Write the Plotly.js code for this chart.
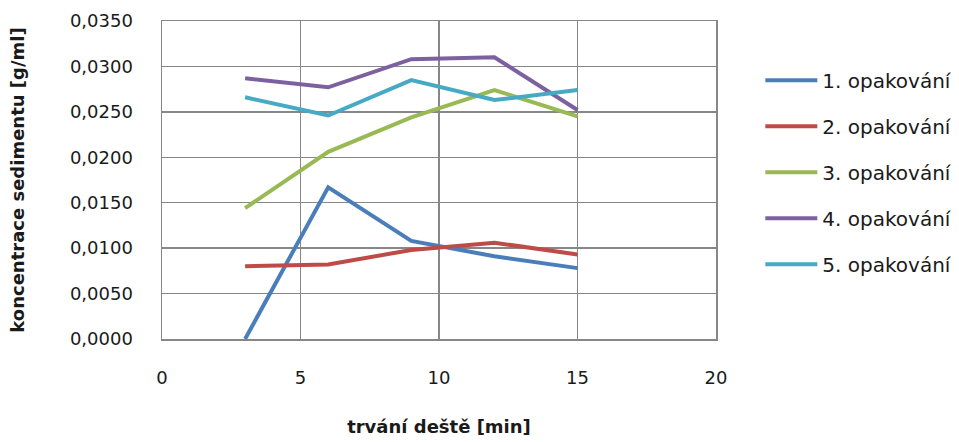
<!DOCTYPE html>
<html><head><meta charset="utf-8">
<script src="https://cdn.plot.ly/plotly-3.0.1.min.js"></script>
<style>html,body{margin:0;padding:0;background:#fff}</style>
</head><body>
<div id="chart" style="width:959px;height:442px"></div>
<script>
const xMinutes = [3, 6, 9, 12, 15];
const seriesNames = ["1. opakování", "2. opakování", "3. opakování", "4. opakování", "5. opakování"];
const rep1 = [0.0000, 0.0167, 0.0108, 0.0091, 0.0078];
const rep2 = [0.0080, 0.0082, 0.0098, 0.0106, 0.0093];
const rep3 = [0.0144, 0.0206, 0.0244, 0.0274, 0.0245];
const rep4 = [0.0287, 0.0277, 0.0308, 0.0310, 0.0252];
const rep5 = [0.0266, 0.0246, 0.0285, 0.0263, 0.0274];
const colors = ["#4A7EBB", "#BE4B48", "#98B954", "#7D60A0", "#46AAC5"];
const allSeries = [rep1, rep2, rep3, rep4, rep5];

const traces = allSeries.map((ys, i) => ({
  x: xMinutes, y: ys, type: "scatter", mode: "lines",
  name: seriesNames[i], legendgroup: "g" + i,
  line: {color: colors[i], width: 4}
}));

const font = "DejaVu Sans, sans-serif";
const txt = "#1a1a1a";
const layout = {
  width: 959, height: 442,
  margin: {l: 162, r: 243, t: 21, b: 103, autoexpand: false},
  separators: ", ",
  paper_bgcolor: "#fff", plot_bgcolor: "#fff",
  font: {family: font, color: txt, size: 18},
  xaxis: {
    range: [0, 20], dtick: 5, tick0: 0,
    showgrid: true, gridcolor: "#878787", gridwidth: 1.5,
    showline: true, mirror: true, linecolor: "#878787", linewidth: 1.5,
    zeroline: false, ticks: "", ticklabelstandoff: 22,
    tickfont: {family: font, size: 18, color: txt},
    title: {text: "trvání deště [min]", font: {family: font, size: 18, color: txt, weight: "bold"}, standoff: 33}
  },
  yaxis: {
    range: [0, 0.035], dtick: 0.005, tick0: 0, tickformat: ".4f",
    showgrid: true, gridcolor: "#878787", gridwidth: 1.5,
    showline: true, mirror: true, linecolor: "#878787", linewidth: 1.5,
    zeroline: false, ticks: "", ticklabelstandoff: 24,
    tickfont: {family: font, size: 18, color: txt},
    title: {text: "koncentrace sedimentu [g/ml]", font: {family: font, size: 18, color: txt, weight: "bold"}, standoff: 40}
  },
  showlegend: true,
  legend: {
    x: 1.08, xanchor: "left", y: 0.875, yanchor: "top",
    traceorder: "grouped", tracegroupgap: 17, itemwidth: 52,
    font: {family: font, size: 20, color: txt},
    bgcolor: "rgba(0,0,0,0)", borderwidth: 0
  }
};

Plotly.newPlot("chart", traces, layout, {displayModeBar: false, staticPlot: true});
</script>
</body></html>
